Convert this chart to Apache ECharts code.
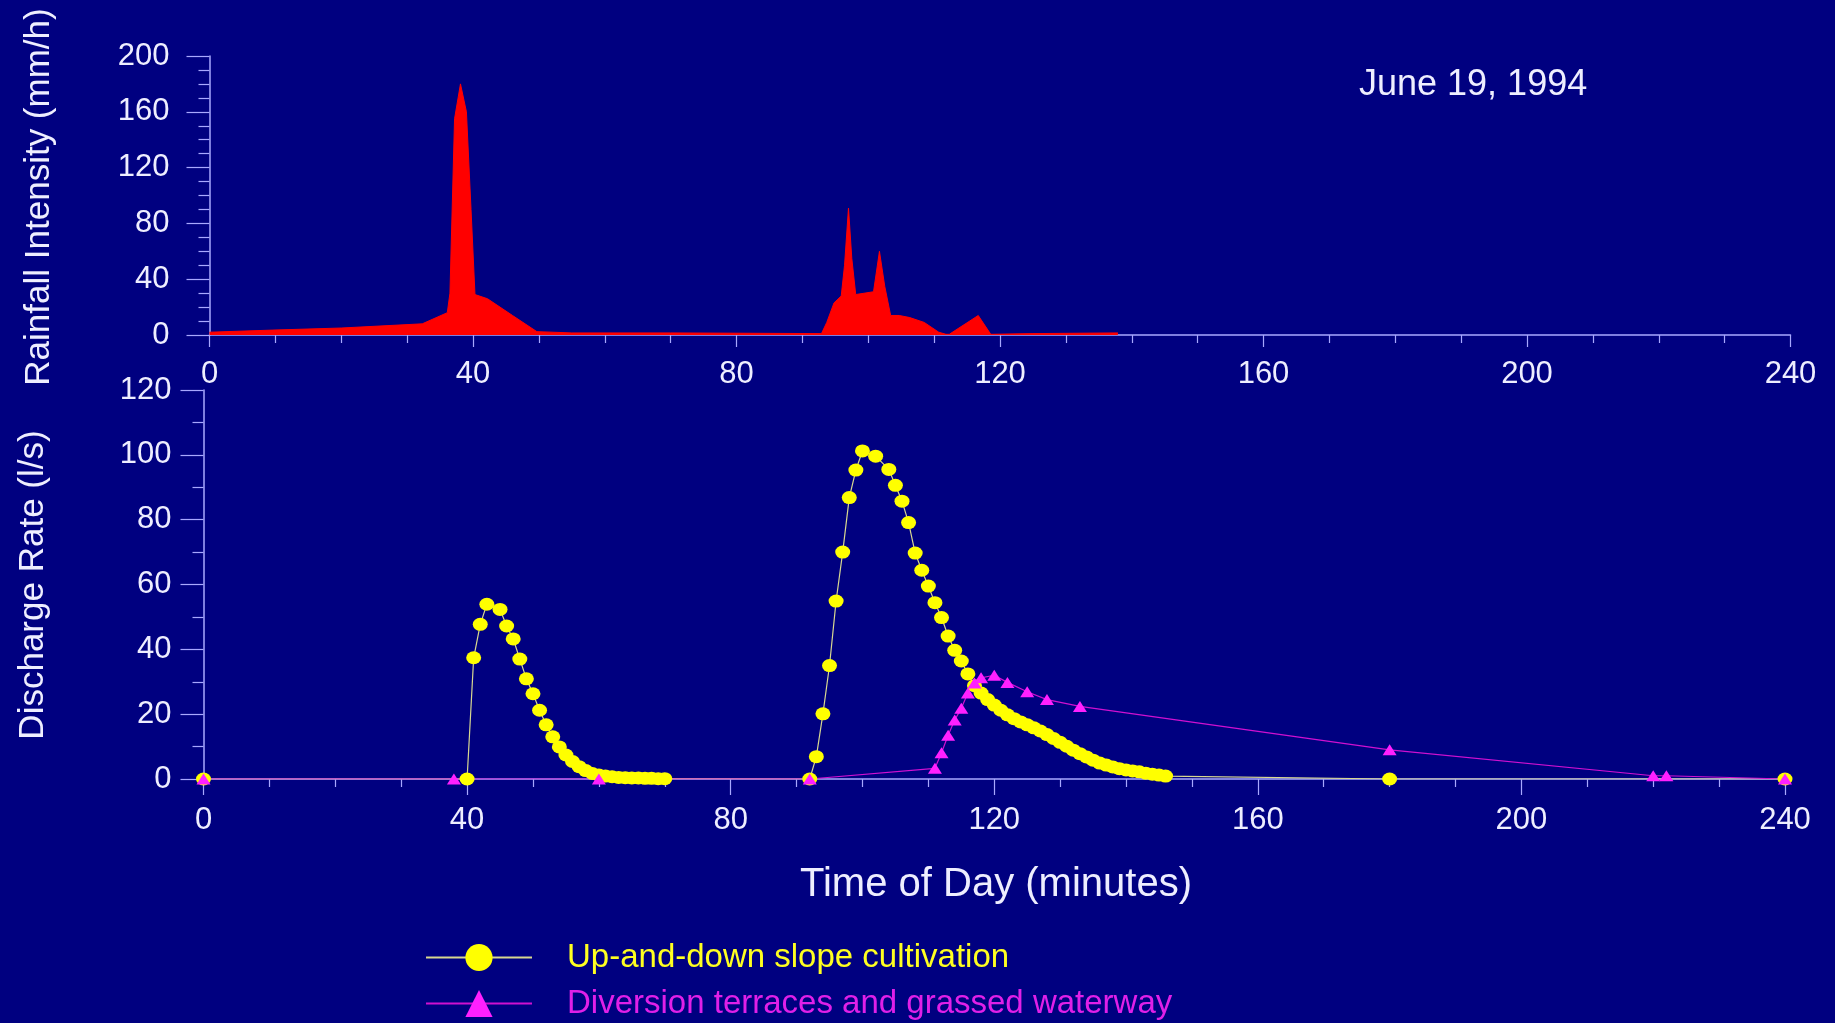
<!DOCTYPE html>
<html>
<head>
<meta charset="utf-8">
<script src="https://cdn.jsdelivr.net/npm/echarts@6/dist/echarts.min.js"></script>
<style>
  html, body { margin: 0; padding: 0; background: #000080; }
  #chart { width: 1835px; height: 1023px; }
</style>
</head>
<body>
<div id="chart"></div>
<script>
// Rainfall hyetograph (mm/h) against time of day (minutes)
const rainfallMinutes = [0, 9.5, 20, 32.3, 36.1, 36.5, 37.2, 38.1, 39.0, 39.7, 40.3, 42.2, 46, 49.7, 55, 70,
  92.9, 93.7, 94.8, 95.9, 96.4, 97.0, 97.5, 98.1, 100.8, 101.7, 102.5, 103.4, 104.7, 106.3, 108.5, 110.7,
  111.8, 112.3, 116.7, 118.6, 125, 137.9];
const rainfallIntensity = [2, 3.5, 5, 8, 16, 30, 155, 180, 160, 90, 29, 26, 14, 2.4, 1.5, 1.5,
  1, 9, 23, 28, 50, 91, 55, 29, 31, 60, 35, 14, 14, 12.5, 9, 2,
  0.5, 0.5, 14, 0.5, 1, 1.5];

// Runoff hydrograph, up-and-down slope cultivation (l/s)
const uplandMinutes = [0, 40, 41, 42, 43, 45, 46, 47, 48, 49, 50, 51, 52, 53, 54, 55, 56, 57, 58, 59, 60,
  61, 62, 63, 64, 65, 66, 67, 68, 69, 70,
  92, 93, 94, 95, 96, 97, 98, 99, 100, 102, 104, 105, 106, 107, 108, 109, 110, 111, 112, 113, 114, 115,
  116, 117, 118, 119, 120, 121, 122, 123, 124, 125, 126, 127, 128, 129, 130, 131, 132, 133, 134, 135,
  136, 137, 138, 139, 140, 141, 142, 143, 144, 145, 146, 180, 240];
const uplandDischarge = [0, 0, 37.4, 47.7, 53.9, 52.3, 47.2, 43.2, 37.0, 30.9, 26.3, 21.2, 16.7, 13.0, 9.9, 7.4, 5.4, 3.8, 2.6, 1.7, 1.2,
  0.9, 0.7, 0.5, 0.4, 0.3, 0.3, 0.2, 0.2, 0.1, 0.1,
  0, 6.9, 20.1, 35.0, 54.9, 70.0, 86.8, 95.3, 101.2, 99.6, 95.5, 90.6, 85.7, 79.1, 69.7, 64.4, 59.5, 54.4, 49.8, 44.1, 39.7, 36.4,
  32.4, 28.8, 26.5, 24.5, 22.8, 21.2, 19.8, 18.6, 17.6, 16.7, 15.8, 14.8, 13.7, 12.5, 11.3, 10.1, 8.9, 7.8, 6.8, 5.8,
  4.9, 4.3, 3.7, 3.2, 2.8, 2.5, 2.2, 1.8, 1.5, 1.2, 0.9, 0, 0];

// Runoff hydrograph, diversion terraces and grassed waterway (l/s)
const terraceMinutes = [0, 38, 60, 92, 111, 112, 113, 114, 115, 116, 117, 118, 120, 122, 125, 128, 133, 180, 220, 222, 240];
const terraceDischarge = [0, 0, 0, 0, 3.3, 8.1, 13.5, 18.2, 21.8, 26.5, 29.6, 31.2, 32.0, 29.8, 26.9, 24.5, 22.4, 9.0, 1.0, 1.0, 0];

const timeTicks = { min: 0, max: 240, step: 40 };
const rainTicks = { min: 0, max: 200, step: 40 };
const dischargeTicks = { min: 0, max: 120, step: 20 };

const seriesNames = ['Up-and-down slope cultivation', 'Diversion terraces and grassed waterway'];

const pairs = (xs, ys) => xs.map((x, i) => [x, ys[i]]);

const FONT = "'Liberation Sans', Arial, Helvetica, sans-serif";
const AXIS = '#a8a8ff';
const TEXT = '#eeeeff';

function timeAxis(grid, tickLen, margin) {
  return {
    type: 'value', gridIndex: grid,
    min: timeTicks.min, max: timeTicks.max, interval: timeTicks.step,
    axisLine: { show: true, onZero: false, lineStyle: { color: AXIS, width: 1.5 } },
    axisTick: { show: true, length: tickLen, lineStyle: { color: AXIS, width: 1.2 } },
    minorTick: { show: true, splitNumber: 4, length: 8, lineStyle: { color: AXIS, width: 1.2 } },
    splitLine: { show: false },
    axisLabel: { color: TEXT, fontSize: 31, fontFamily: FONT, margin: margin }
  };
}

function valueAxis(grid, ticks, minorSplit, offset) {
  return {
    type: 'value', gridIndex: grid, offset: offset,
    min: ticks.min, max: ticks.max, interval: ticks.step,
    axisLine: { show: true, lineStyle: { color: AXIS, width: 1.5 } },
    axisTick: { show: true, length: 23, lineStyle: { color: AXIS, width: 1.2 } },
    minorTick: { show: true, splitNumber: minorSplit, length: 11, lineStyle: { color: AXIS, width: 1.2 } },
    splitLine: { show: false },
    axisLabel: { color: TEXT, fontSize: 31, fontFamily: FONT, margin: 32 }
  };
}

const chart = echarts.init(document.getElementById('chart'), null, { renderer: 'canvas' });

chart.setOption({
  animation: false,
  backgroundColor: '#000080',
  textStyle: { fontFamily: FONT },
  grid: [
    { left: 209.5, right: 44.5, top: 56, height: 279 },
    { left: 203.5, right: 50, top: 390, height: 389 }
  ],
  xAxis: [timeAxis(0, 12, 24), timeAxis(1, 16, 26)],
  yAxis: [valueAxis(0, rainTicks, 4, 8), valueAxis(1, dischargeTicks, 2, 0)],
  legend: {
    type: 'plain', orient: 'vertical', left: 425, top: 941, padding: 0,
    itemWidth: 106, itemHeight: 34, itemGap: 13,
    textStyle: { fontSize: 33, fontFamily: FONT, padding: [0, 0, 0, 30] },
    data: [
      { name: seriesNames[0], textStyle: { color: '#ffff20' } },
      { name: seriesNames[1], textStyle: { color: '#e020e8' } }
    ]
  },
  series: [
    {
      name: 'Rainfall', type: 'line', xAxisIndex: 0, yAxisIndex: 0,
      data: pairs(rainfallMinutes, rainfallIntensity),
      showSymbol: false, symbol: 'none',
      lineStyle: { color: '#ff0000', width: 1 },
      areaStyle: { color: '#ff0000', opacity: 1 }
    },
    {
      name: seriesNames[0], type: 'line', xAxisIndex: 1, yAxisIndex: 1,
      data: pairs(uplandMinutes, uplandDischarge),
      symbol: 'circle', symbolSize: [15, 13],
      itemStyle: { color: '#ffff00' },
      lineStyle: { color: '#d8d890', width: 1.2 }
    },
    {
      name: seriesNames[1], type: 'line', xAxisIndex: 1, yAxisIndex: 1,
      data: pairs(terraceMinutes, terraceDischarge),
      symbol: 'triangle', symbolSize: [14, 11],
      itemStyle: { color: '#ff20ff' },
      lineStyle: { color: '#d010d0', width: 1.2 }
    }
  ],
  graphic: [
    {
      type: 'text', x: 1359, y: 85,
      style: { text: 'June 19, 1994', fill: TEXT, font: '36px ' + FONT,
        textAlign: 'left', align: 'left', textVerticalAlign: 'middle', verticalAlign: 'middle' }
    },
    {
      type: 'text', x: 39, y: 197, rotation: Math.PI / 2,
      style: { text: 'Rainfall Intensity (mm/h)', fill: TEXT, font: '35px ' + FONT,
        textAlign: 'center', align: 'center', textVerticalAlign: 'middle', verticalAlign: 'middle' }
    },
    {
      type: 'text', x: 33, y: 585, rotation: Math.PI / 2,
      style: { text: 'Discharge Rate (l/s)', fill: TEXT, font: '35px ' + FONT,
        textAlign: 'center', align: 'center', textVerticalAlign: 'middle', verticalAlign: 'middle' }
    },
    {
      type: 'text', x: 996, y: 885,
      style: { text: 'Time of Day (minutes)', fill: TEXT, font: '40px ' + FONT,
        textAlign: 'center', align: 'center', textVerticalAlign: 'middle', verticalAlign: 'middle' }
    }
  ]
});
</script>
</body>
</html>
